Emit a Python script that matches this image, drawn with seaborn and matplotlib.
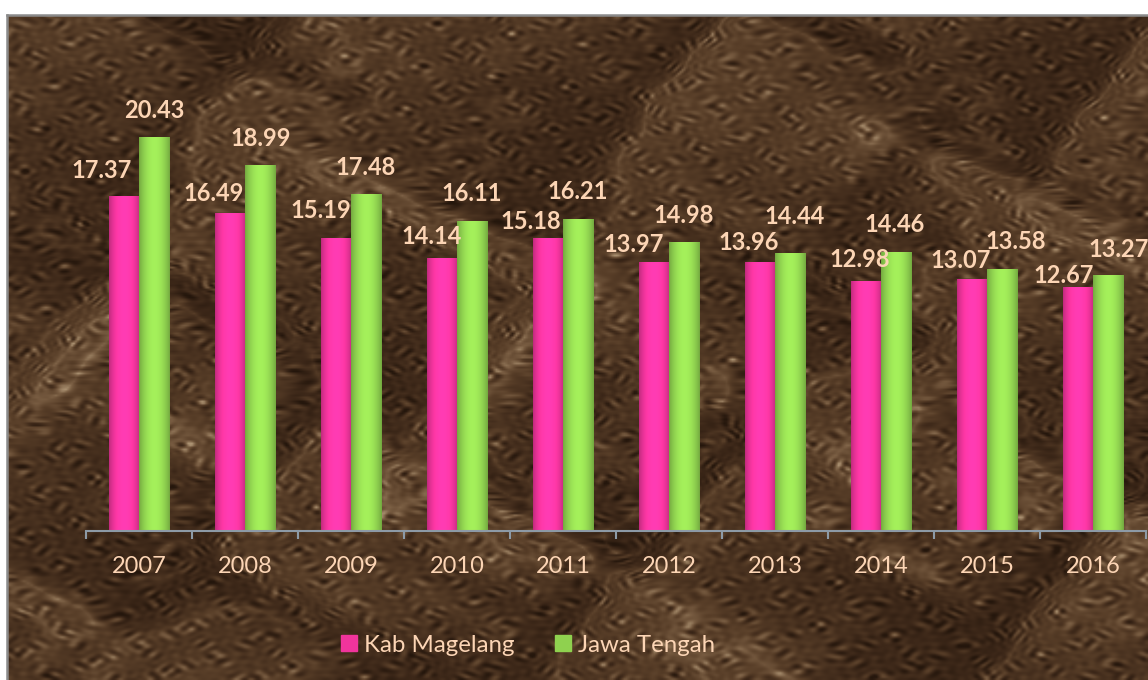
import numpy as np
import pandas as pd
import matplotlib.pyplot as plt
from matplotlib.colors import LinearSegmentedColormap, to_rgb
from matplotlib.patches import Patch
import seaborn as sns

# =========================================
# DATA
# =========================================

years = ["2007", "2008", "2009", "2010", "2011", "2012", "2013", "2014", "2015", "2016"]
kab_magelang = [17.37, 16.49, 15.19, 14.14, 15.18, 13.97, 13.96, 12.98, 13.07, 12.67]
jawa_tengah = [20.43, 18.99, 17.48, 16.11, 16.21, 14.98, 14.44, 14.46, 13.58, 13.27]
series_names = ["Kab Magelang", "Jawa Tengah"]

# label offsets (pixels) from top centre of each bar
kab_offsets = [(-22, 26), (-16, 20), (-15, 28), (-10, 22), (-17, 17),
               (-20, 18), (-11, 20), (-6, 22), (-11, 19), (-14, 12)]
jawa_offsets = [(0, 27), (1, 27), (0, 27), (0, 28), (0, 28),
                (0, 27), (5, 37), (-1, 28), (14, 28), (11, 26)]

pink = "#f0349c"
green = "#8fd14f"
peach = "#fcd5b5"
axis_grey = "#8d9aa6"

df = pd.DataFrame({
    "year": years * 2,
    "value": kab_magelang + jawa_tengah,
    "series": [series_names[0]] * len(years) + [series_names[1]] * len(years),
})

plt.rcParams["font.family"] = ["Lato", "DejaVu Sans"]

# =========================================
# FIGURE + MARBLE BACKGROUND
# =========================================

fig = plt.figure(figsize=(11.48, 6.8), dpi=100, facecolor="white")

bg_ax = fig.add_axes([7 / 1148, 0, 1 - 7 / 1148, 665 / 680])
H, W = 333, 570
yy, xx = np.mgrid[0:1:H * 1j, 0:1:W * 1j]
turb = np.zeros_like(xx)
for k in range(1, 10):
    fx = 1.7 * k + (k % 3)
    fy = 1.3 * k + ((k * 5) % 4)
    turb += np.sin(2 * np.pi * (fx * xx + 0.6 * fy * yy) + k * 1.7) / k ** 0.8
    turb += np.sin(2 * np.pi * (-0.7 * fx * xx + fy * yy) + k * 0.9) / k ** 0.8
# fine mottling, warped by the coarse field so it does not look regular
grain = np.zeros_like(xx)
for k in range(1, 9):
    a = 19 + 9 * k
    b = 13 + 11 * ((k * 3) % 7)
    grain += np.sin(2 * np.pi * (a * xx + b * yy) + 3.5 * turb + k)
    grain += np.sin(2 * np.pi * (-b * xx + a * yy) - 3.0 * turb + 2 * k)
grain /= 16
veins = 1 - np.abs(np.sin(2 * np.pi * (1.4 * xx + 0.9 * yy) + 0.9 * turb))
tex = 0.40 + 0.16 * np.tanh(turb / 2) + 0.18 * veins ** 3 + 0.5 * grain
tex = np.clip(tex, 0, 1)
marble = LinearSegmentedColormap.from_list(
    "marble", ["#24160c", "#3d2819", "#583e28", "#7a5e43", "#ad9474"])
bg_ax.imshow(tex, cmap=marble, aspect="auto", interpolation="bilinear", vmin=0.08, vmax=0.95)
bg_ax.set_xticks([])
bg_ax.set_yticks([])
for side in ["right", "bottom"]:
    bg_ax.spines[side].set_visible(False)
for side in ["left", "top"]:
    bg_ax.spines[side].set_color("#8a8a8a")
    bg_ax.spines[side].set_linewidth(1.8)

# =========================================
# BAR CHART
# =========================================

ax = fig.add_axes([86 / 1148, 149 / 680, 1060 / 1148, 481 / 680])
ax.set_facecolor("none")

sns.barplot(
    data=df, x="year", y="value", hue="series",
    palette=[pink, green], width=0.57, saturation=1,
    linewidth=0, legend=False, ax=ax
)


def cylinder(color, dark=0.80, light=1.15):
    base = np.array(to_rgb(color))
    u = np.linspace(0, 1, 64)
    shade = dark + (light - dark) * np.sin(np.pi * u) ** 0.8
    img = np.clip(base[None, :] * shade[:, None], 0, 1)
    return img[None, :, :]


for container, values, offsets, color in zip(
        ax.containers, [kab_magelang, jawa_tengah], [kab_offsets, jawa_offsets], [pink, green]):
    grad = cylinder(color)
    for bar, v, off in zip(container, values, offsets):
        x0 = bar.get_x()
        x1 = x0 + bar.get_width()
        h = bar.get_height()
        ax.imshow(grad, extent=[x0, x1, 0, h], aspect="auto",
                  interpolation="bilinear", zorder=bar.get_zorder() + 0.1)
        ax.annotate(f"{v:.2f}", ((x0 + x1) / 2, h), xytext=off,
                    textcoords="offset pixels", ha="center", va="center",
                    fontsize=17, fontweight="bold", color=peach,
                    annotation_clip=False, zorder=5)

ax.set_xlim(-0.5, len(years) - 0.5)
ax.set_ylim(0, 25)

for side in ["left", "top", "right"]:
    ax.spines[side].set_visible(False)
ax.spines["bottom"].set_color(axis_grey)
ax.spines["bottom"].set_linewidth(1.5)

ax.set_yticks([])
ax.set_xticks(range(len(years)))
ax.set_xticklabels(years)
ax.set_xticks(np.arange(-0.5, len(years)), minor=True)
ax.tick_params(axis="x", which="major", length=0, pad=18, labelsize=17, labelcolor=peach)
ax.tick_params(axis="x", which="minor", length=6, width=1.5, color=axis_grey)
ax.set_xlabel("")
ax.set_ylabel("")

# =========================================
# LEGEND
# =========================================

handles = [Patch(color=pink, label=series_names[0]),
           Patch(color=green, label=series_names[1])]
fig.legend(handles=handles, loc="center", bbox_to_anchor=(528 / 1148, 1 - 645 / 680),
           ncol=2, frameon=False, handlelength=0.65, handleheight=0.65,
           handletextpad=0.3, columnspacing=1.7, fontsize=17.3, labelcolor=peach)

fig.savefig("out.png", dpi=100, facecolor="white")
